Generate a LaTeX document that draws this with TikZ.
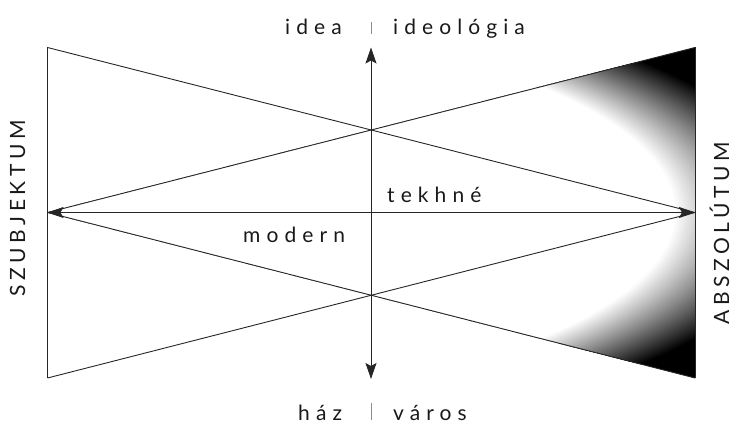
\documentclass[tikz,border=0pt]{standalone}
\usepackage{fontspec}
\setmainfont{Lato}
\newfontfamily\lcfont[LetterSpace=29]{Lato}
\newfontfamily\ucfont[LetterSpace=22]{Lato}
\usetikzlibrary{arrows.meta}
\tikzset{
  ln/.style={line width=0.9pt, draw=black!85},
  dbl/.style={ln, {Stealth[length=16pt,width=11pt,inset=3pt]}-{Stealth[length=16pt,width=11pt,inset=3pt]}},
  lbl/.style={font=\lcfont\fontsize{21}{24}\selectfont, inner sep=0pt, text=black!90},
  caplbl/.style={font=\ucfont\fontsize{21}{24}\selectfont, inner sep=0pt, text=black!90},
  sep/.style={draw=black!45, line width=0.8pt}
}
\begin{document}
\begin{tikzpicture}[x=1pt,y=-1pt]
\useasboundingbox (0,0) rectangle (732,425);
\coordinate (TL) at (47.5,47.5);
\coordinate (BL) at (47.5,378);
\coordinate (TR) at (695,47.5);
\coordinate (BR) at (695,378);
\coordinate (ML) at (47.5,212.5);
\coordinate (MR) at (695,212.5);
\coordinate (VT) at (371,47.5);
\coordinate (VB) at (371,379);
% shading: elliptical gradient centred on the left apex, white inside, black outside
\begin{scope}
\clip (TR) -- (BR) -- (ML) -- cycle;
\fill[black] (ML) ellipse [x radius=900pt, y radius=400pt];
\foreach \i in {0,...,60}{
  \pgfmathsetmacro{\kk}{1.17-0.2*\i/60}
  \pgfmathsetmacro{\ax}{647.5*\kk}
  \pgfmathsetmacro{\by}{210*\kk}
  \pgfmathsetmacro{\pp}{100-100*\i/60}
  \fill[black!\pp!white] (ML) ellipse [x radius=\ax pt, y radius=\by pt];
}
\end{scope}
% triangles
\draw[ln] (TL) -- (BL);
\draw[ln] (TR) -- (BR);
\draw[ln] (TL) -- (MR);
\draw[ln] (BL) -- (MR);
\draw[ln] (TR) -- (ML);
\draw[ln] (BR) -- (ML);
% arrows
\draw[dbl] (ML) -- (MR);
\draw[dbl] (VT) -- (VB);
% labels
\node[lbl, anchor=base west] (idea) at (285,35) {idea};
\node[lbl, anchor=base west] (ideo) at (393,35) {ideológia};
\coordinate (s1a) at (371,22);
\coordinate (s1b) at (371,34);
\draw[sep] (s1a) -- (s1b);
\node[lbl, anchor=base west] (haz) at (298,420) {ház};
\node[lbl, anchor=base west] (varos) at (393,420) {város};
\coordinate (s2a) at (371,403);
\coordinate (s2b) at (371,420);
\draw[sep] (s2a) -- (s2b);
\node[lbl, anchor=base west] (tek) at (387,203) {tekhné};
\node[lbl, anchor=base west] (mod) at (243,243) {modern};
\node[caplbl, rotate=90, anchor=base west] (szub) at (25,297) {SZUBJEKTUM};
\node[caplbl, rotate=90, anchor=base west] (absz) at (729,325) {ABSZOLÚTUM};
\end{tikzpicture}
\end{document}
